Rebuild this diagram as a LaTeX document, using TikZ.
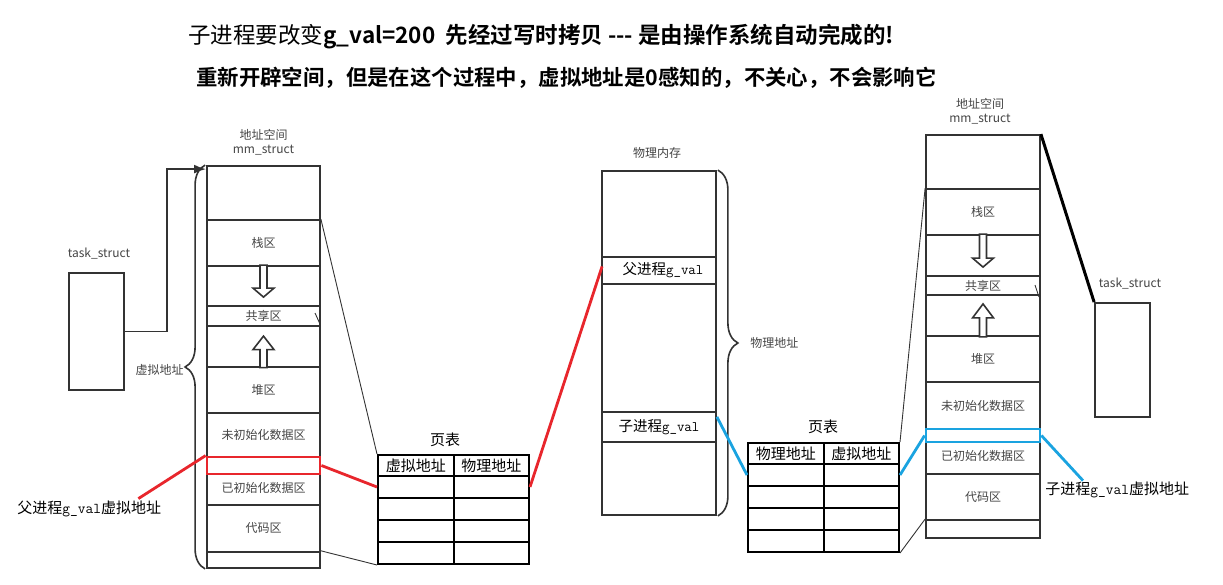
\documentclass[tikz,border=0pt]{standalone}
\usepackage{fontspec}
\newfontfamily\cjk{Noto Sans CJK SC}[BoldFont={Noto Sans CJK SC Bold}]
\usetikzlibrary{arrows.meta,calc,decorations.pathreplacing}
\definecolor{redln}{HTML}{E8262C}
\definecolor{blueln}{HTML}{1AA3E0}
\definecolor{segline}{HTML}{333333}
\definecolor{segtxt}{HTML}{444444}
\tikzset{every picture/.style={line width=0.75pt}}
\tikzset{
  seg/.style={draw=segline, line width=1.8, minimum width=113, inner sep=0,
    font=\cjk\fontsize{12}{14}\selectfont, text=segtxt},
  segtext/.style={inner sep=0, font=\cjk\fontsize{12}{14}\selectfont, text=segtxt},
  memrow/.style={seg, minimum width=114, font=\cjk\fontsize{14.5}{16}\selectfont, text=black},
  cell/.style={draw, line width=2, minimum width=75.5, minimum height=22, inner sep=0,
    font=\cjk\fontsize{15}{17}\selectfont},
  hollow/.style={draw=segline, line width=1.6, fill=white},
  bracket/.style={draw=segline, line width=1.6, decorate, decoration={brace, amplitude=20}},
  thinline/.style={draw=segline, line width=0.9},
  redln/.style={draw=redln, line width=2.8},
  blueln/.style={draw=blueln, line width=2.8},
  smalltext/.style={inner sep=0, font=\cjk\fontsize{12}{14}\selectfont, text=segtxt},
}
\newcommand{\gv}{{\ttfamily g\_val}}

\begin{document}
\begin{tikzpicture}[x=1pt,y=1pt,yscale=-1,xscale=1]
\useasboundingbox (0,0) rectangle (1223,585);

% Title lines
\node[anchor=west, inner sep=0] (title1) at (188,37)
  {\cjk\fontsize{22.5}{25}\selectfont 子进程要改变\bfseries g\_val=200\ \ 先经过写时拷贝 --- 是由操作系统自动完成的!};
\node[anchor=west, inner sep=0] (title2) at (196,78)
  {\cjk\bfseries\fontsize{21.4}{24}\selectfont 重新开辟空间，但是在这个过程中，虚拟地址是0感知的，不关心，不会影响它};

% Left task_struct
\node[smalltext] (tsLlabel) at (99,254) {task\_struct};
\node[draw=segline, line width=1.8, minimum width=55, minimum height=117, inner sep=0] (tsL) at (96.5,331.5) {};

% Left address space
\node[smalltext] (Lname) at (263.5,135) {地址空间};
\node[smalltext] (Lmm) at (263.5,150) {mm\_struct};
\node[seg, minimum height=54] (Ltop) at (263.5,193) {};
\node[seg, minimum height=46] (Lstack) at (263.5,243) {栈区};
\node[seg, minimum height=40] (Lgap1) at (263.5,286) {};
\node[seg, minimum height=20] (Lshare) at (263.5,316) {共享区};
\node[seg, minimum height=40.7] (Lgap2) at (263.5,346.35) {};
\node[seg, minimum height=46] (Lheap) at (263.5,389.7) {堆区};
\node[seg, minimum height=44.3] (Lbss) at (263.5,434.85) {未初始化数据区};
\node[seg, minimum height=48] (Ldata) at (263.5,481) {};
\node[segtext] (Ldatatext) at (263.5,488) {已初始化数据区};
\node[seg, minimum height=46.7] (Lcode) at (263.5,528.35) {代码区};
\node[seg, minimum height=16.3] (Lbot) at (263.5,559.85) {};
\node[draw=redln, line width=2.8, minimum width=113, minimum height=17, inner sep=0] (Lred) at (263.5,465.5) {};

% hollow arrows
\draw[hollow] (Lgap1.north) ++(-3.5,0) -- ++(0,23) -- ++(-7,0) -- ++(10.5,9) -- ++(10.5,-9) -- ++(-7,0) -- ++(0,-23) -- cycle;
\draw[hollow] (Lgap2.south) ++(-3.5,0) -- ++(0,-18) -- ++(-7,0) -- ++(10.5,-13.5) -- ++(10.5,13.5) -- ++(-7,0) -- ++(0,18) -- cycle;
\draw[thinline] (315,313) -- (320,324);

% brace: virtual addresses
\draw[bracket] ($(Lbot.south west)+(-1,0)$) -- ($(Ltop.north west)+(-1,0)$);
\node[smalltext, anchor=east] (Lvirt) at (184,370) {虚拟地址};

\draw[draw=segline, line width=1.8, -{Latex[length=12,width=9]}] (tsL.east) -- ++(42,0) |- ($(Ltop.north west)+(0,4)$);

% Page table 1
\node[inner sep=0, font=\cjk\fontsize{15}{17}\selectfont] (pt1title) at (445,440) {页表};
\node[cell, minimum height=21] (pt1h1) at (415.75,465.5) {虚拟地址};
\node[cell, minimum height=21] (pt1h2) at (491.25,465.5) {物理地址};
\foreach \i in {1,...,4} {
  \node[cell] (pt1a\i) at (415.75,{465+22*\i}) {};
  \node[cell] (pt1b\i) at (491.25,{465+22*\i}) {};
}

% Physical memory
\node[smalltext] (Pname) at (657,153) {物理内存};
\node[seg, minimum width=114, minimum height=344] (Pmem) at (659,343) {};
\node[memrow, minimum height=27.3] (Pparent) at (659,270.4) {\hspace{8pt}父进程\gv};
\node[memrow, minimum height=30.3] (Pchild) at (659,426.9) {子进程\gv};
\draw[bracket] ($(Pmem.north east)+(1,0)$) -- ($(Pmem.south east)+(1,0)$);
\node[smalltext, anchor=west] (Pphys) at (750,343) {物理地址};

% Page table 2
\node[inner sep=0, font=\cjk\fontsize{15}{17}\selectfont] (pt2title) at (823,427) {页表};
\node[cell, minimum height=21] (pt2h1) at (785.75,453.5) {物理地址};
\node[cell, minimum height=21] (pt2h2) at (861.25,453.5) {虚拟地址};
\foreach \i in {1,...,4} {
  \node[cell] (pt2a\i) at (785.75,{453+22*\i}) {};
  \node[cell] (pt2b\i) at (861.25,{453+22*\i}) {};
}

% Right address space
\node[smalltext] (Rname) at (980,104) {地址空间};
\node[smalltext] (Rmm) at (980,119) {mm\_struct};
\node[seg, minimum width=114, minimum height=54] (Rtop) at (983,162) {};
\node[seg, minimum width=114, minimum height=46] (Rstack) at (983,212) {栈区};
\node[seg, minimum width=114, minimum height=41] (Rgap1) at (983,255.5) {};
\node[seg, minimum width=114, minimum height=19] (Rshare) at (983,285.5) {共享区};
\node[seg, minimum width=114, minimum height=41] (Rgap2) at (983,315.5) {};
\node[seg, minimum width=114, minimum height=46] (Rheap) at (983,359) {堆区};
\node[seg, minimum width=114, minimum height=47] (Rbss) at (983,405.5) {未初始化数据区};
\node[seg, minimum width=114, minimum height=45] (Rdata) at (983,451.5) {};
\node[segtext] (Rdatatext) at (983,456) {已初始化数据区};
\node[seg, minimum width=114, minimum height=46] (Rcode) at (983,497) {代码区};
\node[seg, minimum width=114, minimum height=18] (Rbot) at (983,529) {};
\node[draw=blueln, line width=2.8, minimum width=114, minimum height=13, inner sep=0] (Rblue) at (983,435.5) {};

\draw[hollow] (Rgap1.north) ++(-3.5,0) -- ++(0,24) -- ++(-7,0) -- ++(10.5,9) -- ++(10.5,-9) -- ++(-7,0) -- ++(0,-24) -- cycle;
\draw[hollow] (Rgap2.south) ++(-3.5,0) -- ++(0,-19) -- ++(-7,0) -- ++(10.5,-14) -- ++(10.5,14) -- ++(-7,0) -- ++(0,19) -- cycle;
\draw[thinline] (1035,285) -- (1039,297);

% Right task_struct
\node[smalltext] (tsRlabel) at (1130,284) {task\_struct};
\node[draw=segline, line width=1.8, minimum width=55, minimum height=114, inner sep=0] (tsR) at (1122.5,360) {};
\draw[line width=3] (Rtop.north east) -- (tsR.north west);

% thin mapping lines
\draw[thinline] (Lstack.north east) -- (pt1h1.north west);
\draw[thinline] (Lbot.north east) -- (pt1a4.south west);
\draw[thinline] (pt2h2.north east) -- (Rstack.north west);
\draw[thinline] (pt2b4.south east) -- (Rbot.north west);

% labels of g_val
\node[anchor=west, inner sep=0, font=\cjk\fontsize{15}{17}\selectfont] (pLabel) at (17,509) {父进程\gv 虚拟地址};
\node[anchor=west, inner sep=0, font=\cjk\fontsize{15}{17}\selectfont] (cLabel) at (1045,490) {子进程\gv 虚拟地址};

% red: parent
\draw[redln] (Lred.north west) -- ($(pLabel.north east)+(-23,-2)$);
\draw[redln] (pt1a1.west) -- (Lred.east);
\draw[redln] (pt1b1.east) -- ($(Pparent.west)+(1,-4)$);

% blue: child
\draw[blueln] ($(Pchild.north east)+(0,6)$) -- (pt2a1.west);
\draw[blueln] (pt2b1.east) -- (Rblue.west);
\draw[blueln] (Rblue.east) -- ($(cLabel.north west)+(38,-1)$);

\end{tikzpicture}
\end{document}
